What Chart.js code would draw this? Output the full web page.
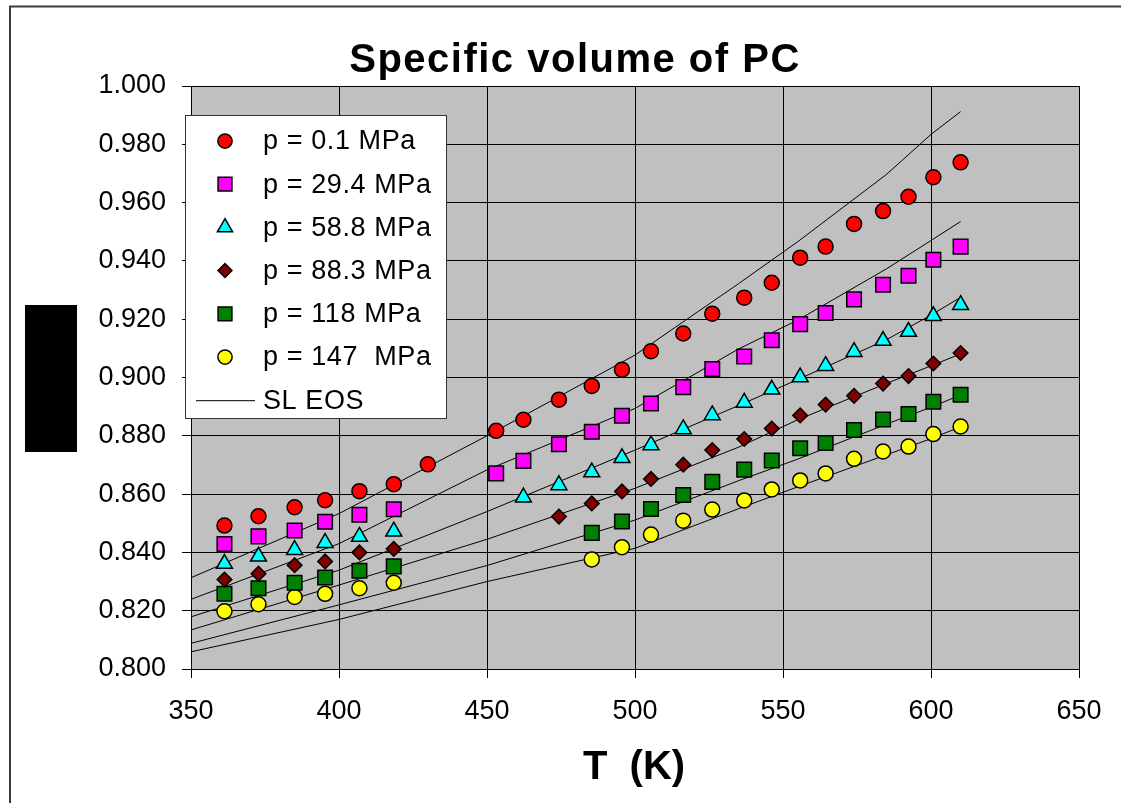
<!DOCTYPE html>
<html>
<head>
<meta charset="utf-8">
<title>Specific volume of PC</title>
<script src="https://cdn.jsdelivr.net/npm/chart.js"></script>
<style>
  html, body { margin: 0; padding: 0; background: #fff; }
  #wrap { width: 1121px; height: 803px; position: relative; }
</style>
</head>
<body>
<div id="wrap"><canvas id="pcChart" width="1121" height="803"></canvas></div>
<script>
// Measured temperatures (K), shared by all isobars; null = not measured
var tempK = [361.3, 372.8, 385.0, 395.3, 406.9, 418.5, 430.0, 453.1, 462.3, 474.3, 485.4, 495.6,
             505.4, 516.3, 526.1, 536.9, 546.2, 555.8, 564.4, 574.0, 583.8, 592.4, 600.8, 610.0];

var vol01  = [0.8492, 0.8524, 0.8555, 0.8579, 0.8610, 0.8634, 0.8702, 0.8817, 0.8855, 0.8924, 0.8971, 0.9027,
              0.9090, 0.9151, 0.9219, 0.9274, 0.9325, 0.9411, 0.9449, 0.9527, 0.9571, 0.9620, 0.9687, 0.9738];
var vol294 = [0.8429, 0.8455, 0.8475, 0.8505, 0.8529, 0.8548, null, 0.8671, 0.8714, 0.8771, 0.8814, 0.8869,
              0.8911, 0.8967, 0.9029, 0.9072, 0.9128, 0.9183, 0.9221, 0.9268, 0.9318, 0.9349, 0.9404, 0.9449];
var vol588 = [0.8361, 0.8386, 0.8409, 0.8433, 0.8454, 0.8472, null, null, 0.8589, 0.8631, 0.8675, 0.8724,
              0.8768, 0.8823, 0.8871, 0.8914, 0.8959, 0.9001, 0.9040, 0.9088, 0.9126, 0.9157, 0.9211, 0.9249];
var vol883 = [0.8307, 0.8327, 0.8356, 0.8369, 0.8400, 0.8412, null, null, null, 0.8523, 0.8568, 0.8609,
              0.8652, 0.8701, 0.8751, 0.8789, 0.8825, 0.8870, 0.8907, 0.8937, 0.8979, 0.9005, 0.9048, 0.9084];
var vol118 = [0.8258, 0.8277, 0.8296, 0.8314, 0.8337, 0.8352, null, null, null, null, 0.8467, 0.8506,
              0.8549, 0.8597, 0.8642, 0.8684, 0.8715, 0.8757, 0.8775, 0.8820, 0.8856, 0.8875, 0.8917, 0.8941];
var vol147 = [0.8198, 0.8222, 0.8247, 0.8258, 0.8277, 0.8296, null, null, null, null, 0.8376, 0.8418,
              0.8461, 0.8509, 0.8547, 0.8578, 0.8616, 0.8647, 0.8671, 0.8721, 0.8746, 0.8763, 0.8806, 0.8832];

// SL equation of state curves, one per pressure
var eosT    = [350, 400, 450, 500, 535, 555, 585, 600, 610];
var eos01   = [0.8313, 0.8533, 0.8800, 0.9077, 0.9322, 0.9466, 0.9697, 0.9834, 0.9912];
var eos294  = [0.8239, 0.8430, 0.8683, 0.8894, 0.9098, 0.9197, 0.9373, 0.9470, 0.9535];
var eos588  = [0.8179, 0.8339, 0.8540, 0.8751, 0.8904, 0.8993, 0.9130, 0.9214, 0.9275];
var eos883  = [0.8134, 0.8288, 0.8445, 0.8620, 0.8761, 0.8855, 0.8980, 0.9040, 0.9081];
var eos118  = [0.8088, 0.8220, 0.8355, 0.8511, 0.8646, 0.8720, 0.8840, 0.8898, 0.8940];
var eos147  = [0.8059, 0.8170, 0.8300, 0.8414, 0.8550, 0.8625, 0.8735, 0.8790, 0.8831];

var seriesLabels = ['p = 0.1 MPa', 'p = 29.4 MPa', 'p = 58.8 MPa', 'p = 88.3 MPa', 'p = 118 MPa', 'p = 147  MPa'];
var xTicks = [350, 400, 450, 500, 550, 600, 650];
var yTicks = [0.800, 0.820, 0.840, 0.860, 0.880, 0.900, 0.920, 0.940, 0.960, 0.980, 1.000];

var FONT = "'Liberation Sans', Arial, Helvetica, sans-serif";

function toPoints(xs, ys) {
    var pts = [];
    for (var i = 0; i < xs.length; i++) {
        if (ys[i] !== null) pts.push({ x: xs[i], y: ys[i] });
    }
    return pts;
}

function markerSet(label, values, style, color, radius) {
    return {
        type: 'scatter',
        label: label,
        data: toPoints(tempK, values),
        pointStyle: style,
        pointRadius: radius,
        pointHoverRadius: radius,
        backgroundColor: color,
        borderColor: '#000',
        borderWidth: 1.5,
        showLine: false,
        order: 0
    };
}

function eosSet(values, inLegend) {
    return {
        type: 'line',
        label: 'SL EOS',
        data: toPoints(eosT, values),
        borderColor: '#000',
        borderWidth: 1,
        pointRadius: 0,
        tension: 0,
        fill: false,
        inLegend: inLegend,
        order: 1
    };
}

var datasets = [
    markerSet(seriesLabels[0], vol01, 'circle', '#FF0000', 7.5),
    markerSet(seriesLabels[1], vol294, 'rect', '#FF00FF', 10.3),
    markerSet(seriesLabels[2], vol588, 'triangle', '#00FFFF', 9.2),
    markerSet(seriesLabels[3], vol883, 'rectRot', '#800000', 7.3),
    markerSet(seriesLabels[4], vol118, 'rect', '#008000', 10.3),
    markerSet(seriesLabels[5], vol147, 'circle', '#FFFF00', 7.5),
    eosSet(eos01, true),
    eosSet(eos294, false),
    eosSet(eos588, false),
    eosSet(eos883, false),
    eosSet(eos118, false),
    eosSet(eos147, false)
];

// Grey plot background, outer frame, titles and the boxed legend
var decorPlugin = {
    id: 'decor',
    beforeDraw: function (chart) {
        var ctx = chart.ctx, a = chart.chartArea;
        ctx.save();
        ctx.fillStyle = '#fff';
        ctx.fillRect(0, 0, chart.width, chart.height);
        ctx.strokeStyle = '#3a3a3a';
        ctx.lineWidth = 2;
        ctx.strokeRect(10, 6.5, chart.width + 20, chart.height + 20);
        ctx.fillStyle = '#C0C0C0';
        ctx.fillRect(a.left, a.top, a.right - a.left, a.bottom - a.top);
        // y axis title block
        ctx.fillStyle = '#000';
        ctx.fillRect(25, 305, 52, 147);
        ctx.restore();
    },
    afterDraw: function (chart) {
        var ctx = chart.ctx;
        var spacing = 'letterSpacing' in ctx;
        ctx.save();
        ctx.fillStyle = '#000';
        ctx.textAlign = 'center';
        ctx.textBaseline = 'alphabetic';
        ctx.font = 'bold 40px ' + FONT;
        if (spacing) ctx.letterSpacing = '1.5px';
        ctx.fillText('Specific volume of PC', 575, 72);
        if (spacing) ctx.letterSpacing = '0px';
        ctx.fillText('T  (K)', 634, 779);

        // legend box
        var bx = 185, by = 115, bw = 261, bh = 303;
        ctx.fillStyle = '#fff';
        ctx.fillRect(bx, by, bw, bh);
        ctx.strokeStyle = '#333';
        ctx.lineWidth = 1;
        ctx.strokeRect(bx + 0.5, by + 0.5, bw, bh);

        var rowY = by + 26, rowH = 43.2;
        ctx.font = '27px ' + FONT;
        ctx.textAlign = 'left';
        ctx.textBaseline = 'middle';
        chart.data.datasets.forEach(function (ds) {
            if (ds.type === 'scatter') {
                ctx.fillStyle = ds.backgroundColor;
                ctx.strokeStyle = ds.borderColor;
                ctx.lineWidth = ds.borderWidth;
                Chart.helpers.drawPoint(ctx, {
                    pointStyle: ds.pointStyle, radius: ds.pointRadius * 0.95,
                    borderWidth: ds.borderWidth, rotation: 0
                }, 225, rowY);
            } else if (ds.inLegend) {
                ctx.strokeStyle = '#000';
                ctx.lineWidth = 1;
                ctx.beginPath();
                ctx.moveTo(196, rowY + 0.5);
                ctx.lineTo(255, rowY + 0.5);
                ctx.stroke();
            } else {
                return;
            }
            ctx.fillStyle = '#000';
            if (spacing) ctx.letterSpacing = '0.6px';
            ctx.fillText(ds.label, 263, rowY + 1);
            if (spacing) ctx.letterSpacing = '0px';
            rowY += rowH;
        });
        ctx.restore();
    }
};

new Chart(document.getElementById('pcChart').getContext('2d'), {
    data: { datasets: datasets },
    options: {
        responsive: false,
        animation: false,
        events: [],
        layout: { padding: { top: 86, right: 42, bottom: 0, left: 0 } },
        plugins: {
            legend: { display: false },
            title: { display: false },
            tooltip: { enabled: false }
        },
        scales: {
            x: {
                type: 'linear',
                min: xTicks[0],
                max: xTicks[xTicks.length - 1],
                afterFit: function (scale) { scale.height = 134; },
                afterBuildTicks: function (scale) {
                    scale.ticks = xTicks.map(function (v) { return { value: v }; });
                },
                ticks: {
                    color: '#000',
                    padding: 17,
                    maxRotation: 0,
                    font: { family: FONT, size: 27 },
                    callback: function (v) { return String(v); }
                },
                grid: { color: '#000', lineWidth: 1, tickLength: 9, tickColor: '#000' },
                border: { color: '#000', width: 1 }
            },
            y: {
                type: 'linear',
                min: yTicks[0],
                max: yTicks[yTicks.length - 1],
                afterFit: function (scale) { scale.width = 191; },
                afterBuildTicks: function (scale) {
                    scale.ticks = yTicks.map(function (v) { return { value: v }; });
                },
                ticks: {
                    color: '#000',
                    padding: 16,
                    font: { family: FONT, size: 27 },
                    callback: function (v) { return Number(v).toFixed(3); }
                },
                grid: { color: '#000', lineWidth: 1, tickLength: 9, tickColor: '#000' },
                border: { color: '#000', width: 1 }
            }
        }
    },
    plugins: [decorPlugin]
});
</script>
</body>
</html>
